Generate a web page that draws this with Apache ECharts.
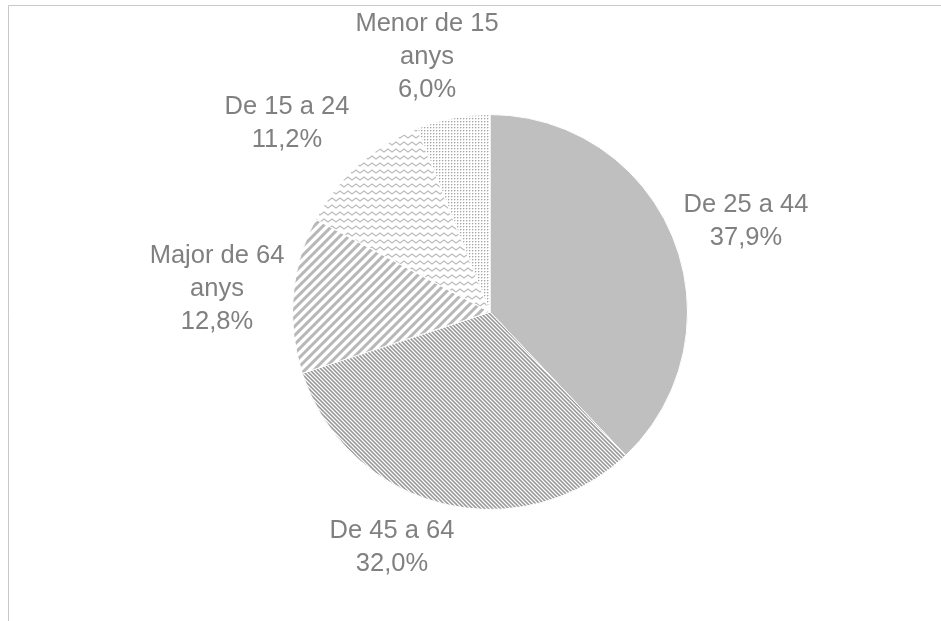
<!DOCTYPE html>
<html>
<head>
<meta charset="utf-8">
<script src="https://cdn.jsdelivr.net/npm/echarts@6/dist/echarts.min.js"></script>
<style>
  html, body { margin: 0; padding: 0; background: #fff; }
  #chart { width: 941px; height: 621px; }
</style>
</head>
<body>
<div id="chart"></div>
<script>
// ---- data ----
const categories = ['De 25 a 44', 'De 45 a 64', 'Major de 64 anys', 'De 15 a 24', 'Menor de 15 anys'];
const shares = [37.9, 32.0, 12.8, 11.2, 6.0];

// ---- layout (label centres, px) ----
const labelCenters = [
  [746, 221],
  [392, 547],
  [217, 289],
  [287, 123],
  [427, 57]
];

// ---- pattern helpers ----
function hexToRgb(h) {
  const n = parseInt(h.slice(1), 16);
  return [(n >> 16) & 255, (n >> 8) & 255, n & 255];
}
function stripeTile(P, halfW, slash, color) {
  const c = document.createElement('canvas');
  c.width = P; c.height = P;
  const ctx = c.getContext('2d');
  const img = ctx.createImageData(P, P);
  const rgb = hexToRgb(color);
  const S = 4;
  for (let y = 0; y < P; y++) {
    for (let x = 0; x < P; x++) {
      let cov = 0;
      for (let sy = 0; sy < S; sy++) for (let sx = 0; sx < S; sx++) {
        const fx = x + (sx + 0.5) / S, fy = y + (sy + 0.5) / S;
        let s = slash ? (fx + fy) : (fx - fy);
        let u = ((s % P) + P) % P;
        const d = Math.min(u, P - u) / Math.SQRT2;
        if (d <= halfW) cov++;
      }
      cov /= S * S;
      const i = (y * P + x) * 4;
      for (let k = 0; k < 3; k++) img.data[i + k] = Math.round(255 * (1 - cov) + rgb[k] * cov);
      img.data[i + 3] = 255;
    }
  }
  ctx.putImageData(img, 0, 0);
  return c;
}
function zigzagTile() {
  const W = 8, H = 7;
  const c = document.createElement('canvas');
  c.width = W; c.height = H;
  const ctx = c.getContext('2d');
  ctx.fillStyle = '#fff';
  ctx.fillRect(0, 0, W, H);
  ctx.strokeStyle = '#bcbcbc';
  ctx.lineWidth = 1.3;
  for (const off of [-H, 0, H]) {
    const cy = 3.5 + off;
    ctx.beginPath();
    ctx.moveTo(-4, cy - 1.5);
    ctx.lineTo(0, cy + 1.5);
    ctx.lineTo(4, cy - 1.5);
    ctx.lineTo(8, cy + 1.5);
    ctx.lineTo(12, cy - 1.5);
    ctx.stroke();
  }
  return c;
}
function dotTile() {
  const c = document.createElement('canvas');
  c.width = 3; c.height = 3;
  const ctx = c.getContext('2d');
  ctx.fillStyle = '#fff';
  ctx.fillRect(0, 0, 3, 3);
  ctx.fillStyle = '#a6a6a6';
  ctx.fillRect(1, 1, 1, 1);
  ctx.fillStyle = '#dcdcdc';
  ctx.fillRect(2, 1, 1, 1);
  ctx.fillRect(1, 2, 1, 1);
  return c;
}

const fills = [
  '#bfbfbf',
  { image: stripeTile(4, 0.72, false, '#999999'), repeat: 'repeat' },
  { image: stripeTile(9, 1.5, true, '#b8b8b8'), repeat: 'repeat' },
  { image: zigzagTile(), repeat: 'repeat' },
  { image: dotTile(), repeat: 'repeat' }
];

function fmtPct(v) { return v.toFixed(1).replace('.', ',') + '%'; }

const chart = echarts.init(document.getElementById('chart'), null, { renderer: 'canvas' });
chart.setOption({
  animation: false,
  backgroundColor: '#ffffff',
  graphic: [{
    type: 'rect',
    silent: true,
    shape: { x: 8.5, y: 5.5, width: 1000, height: 700 },
    style: { fill: 'none', stroke: '#c8c8c8', lineWidth: 1 }
  }],
  series: [{
    type: 'pie',
    center: [490, 312],
    radius: 197.5,
    startAngle: 90,
    clockwise: true,
    avoidLabelOverlap: false,
    silent: true,
    itemStyle: { borderColor: '#ffffff', borderWidth: 1 },
    label: {
      show: true,
      position: 'outside',
      color: '#808080',
      fontFamily: '"Liberation Sans", Arial, sans-serif',
      fontSize: 25.5,
      lineHeight: 33,
      align: 'center',
      formatter: p => p.name.replace(' anys', '\nanys') + '\n' + fmtPct(p.value)
    },
    labelLine: { show: false },
    labelLayout: params => {
      const c = labelCenters[params.dataIndex];
      return { x: c[0], y: c[1], align: 'center', verticalAlign: 'middle' };
    },
    data: categories.map((name, i) => ({
      name: name,
      value: shares[i],
      itemStyle: { color: fills[i] }
    }))
  }]
});
</script>
</body>
</html>
